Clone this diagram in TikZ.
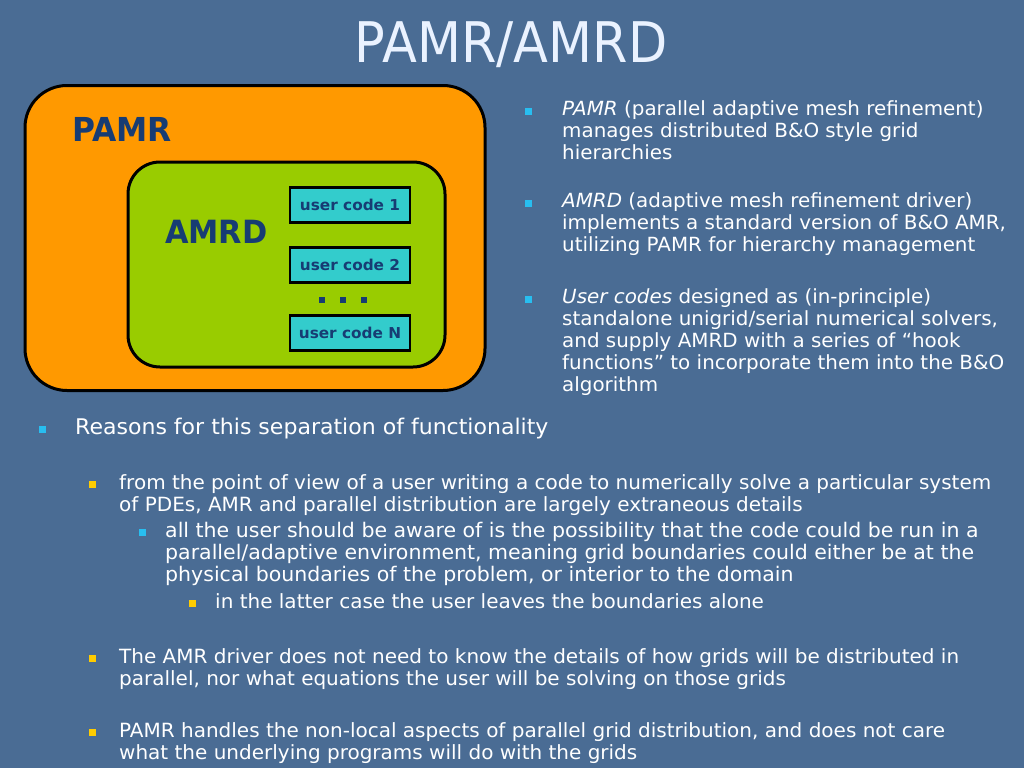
\documentclass[tikz,border=0pt]{standalone}
\usepackage{fontspec}
\setmainfont{DejaVu Sans}[FakeStretch=1.02]
\newfontfamily\titlefont{DejaVu Sans}[FakeStretch=0.91]
\newfontfamily\labelfont{DejaVu Sans}[FakeStretch=0.95]
\usetikzlibrary{positioning}
\definecolor{slidebg}{RGB}{74,108,148}
\definecolor{pamrorange}{RGB}{255,153,0}
\definecolor{amrdgreen}{RGB}{153,204,0}
\definecolor{codecyan}{RGB}{51,204,204}
\definecolor{labelblue}{RGB}{23,60,115}
\definecolor{bulcyan}{RGB}{40,190,240}
\definecolor{bulyellow}{RGB}{255,204,0}
\definecolor{titlewhite}{RGB}{234,242,255}
\tikzset{
  rightline/.style = {text=white, inner sep=0, anchor=north west, align=left,
                      font=\fontsize{19.5}{22}\selectfont},
  lowline/.style = {text=white, inner sep=0, anchor=north west, align=left,
                    font=\fontsize{19.6}{22}\selectfont},
  cyanbul/.style = {fill=bulcyan, inner sep=0, minimum size=7pt},
  yellowbul/.style = {fill=bulyellow, inner sep=0, minimum size=7pt},
  codebox/.style = {draw=black, line width=2.5pt, fill=codecyan, minimum width=120pt,
                    minimum height=35pt, text=labelblue, font=\bfseries\fontsize{15}{18}\selectfont}
}

\begin{document}
\begin{tikzpicture}[x=1pt,y=-1pt]
    \useasboundingbox (0,0) rectangle (1024,768);
    \fill [slidebg] (0,0) rectangle (1024,768);
    % title
    \node [text=titlewhite, inner sep=0, anchor=base, font=\titlefont\fontsize{56}{60}\selectfont] (title) at (511,63) {PAMR/AMRD};
    % nested boxes
    \node [draw=black, line width=3pt, fill=pamrorange, rounded corners=42pt, minimum width=460pt, minimum height=305pt] (pamr) at (255,238) {};
    \node [draw=black, line width=3pt, fill=amrdgreen, rounded corners=32pt, minimum width=317pt, minimum height=205pt] (amrd) at (286.5,264.5) {};
    \node [anchor=base west, inner sep=0, text=labelblue, font=\labelfont\bfseries\fontsize{33}{36}\selectfont] (pamrlabel) at (72,141) {PAMR};
    \node [anchor=base west, inner sep=0, text=labelblue, font=\labelfont\bfseries\fontsize{32}{36}\selectfont] (amrdlabel) at (165,243) {AMRD};
    \node [codebox] (code1) at (350,205) {user code 1};
    \node [codebox] (code2) at (350,265) {user code 2};
    \node [codebox] (codeN) at (350,333) {user code N};
    \foreach \dx in {322,343,364}
        \fill [labelblue] (\dx-3,297) rectangle (\dx+3,303);
    % right hand bullets
    \node [cyanbul] (rb1) at (528,111) {};
    \node [rightline] (rt1) at (562,100) {\textit{PAMR} (parallel adaptive mesh refinement)\\manages distributed B\&O style grid\\hierarchies};
    \node [cyanbul] (rb2) at (528,203) {};
    \node [rightline] (rt2) at (562,192) {\textit{AMRD} (adaptive mesh refinement driver)\\implements a standard version of B\&O AMR,\\utilizing PAMR for hierarchy management};
    \node [cyanbul] (rb3) at (528,299) {};
    \node [rightline] (rt3) at (562,288) {\textit{User codes} designed as (in-principle)\\standalone unigrid/serial numerical solvers,\\and supply AMRD with a series of ``hook\\functions'' to incorporate them into the B\&O\\algorithm};
    % lower bullets
    \node [cyanbul] (lb1) at (42,429) {};
    \node [lowline, font=\fontsize{21.6}{24}\selectfont] (lt1) at (75,418) {Reasons for this separation of functionality};
    \node [yellowbul] (lb2) at (92,484) {};
    \node [lowline] (lt2) at (119,474) {from the point of view of a user writing a code to numerically solve a particular system\\of PDEs, AMR and parallel distribution are largely extraneous details};
    \node [cyanbul] (lb3) at (142,532) {};
    \node [lowline, font=\fontsize{20.1}{22}\selectfont] (lt3) at (165,522) {all the user should be aware of is the possibility that the code could be run in a\\parallel/adaptive environment, meaning grid boundaries could either be at the\\physical boundaries of the problem, or interior to the domain};
    \node [yellowbul] (lb4) at (192,603) {};
    \node [lowline] (lt4) at (215,593) {in the latter case the user leaves the boundaries alone};
    \node [yellowbul] (lb5) at (92,658) {};
    \node [lowline] (lt5) at (119,648) {The AMR driver does not need to know the details of how grids will be distributed in\\parallel, nor what equations the user will be solving on those grids};
    \node [yellowbul] (lb6) at (92,732) {};
    \node [lowline] (lt6) at (119,722) {PAMR handles the non-local aspects of parallel grid distribution, and does not care\\what the underlying programs will do with the grids};
\end{tikzpicture}
\end{document}
